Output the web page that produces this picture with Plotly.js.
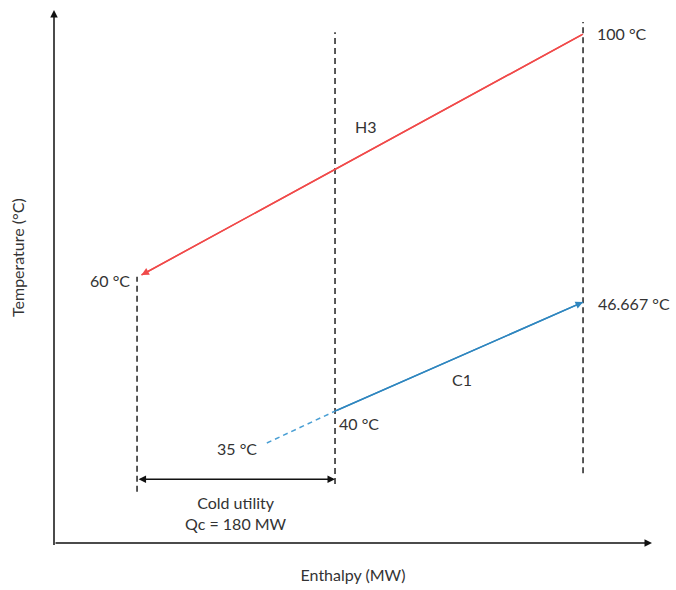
<!DOCTYPE html>
<html><head><meta charset="utf-8">
<script src="https://cdn.plot.ly/plotly-3.0.1.min.js"></script>
<style>body{margin:0;background:#fff}#c{width:676px;height:590px}</style>
</head><body><div id="c"></div>
<script>
// Schematic data (enthalpy in MW, plotted temperature position on diagram)
const h3Enthalpy = [405.5, 4];
const h3PlotT = [100, 60];
const h3Labels = ['100 °C', '60 °C'];

const c1DashEnthalpy = [118, 180];
const c1DashPlotT = [32.1, 37.4];
const c1Enthalpy = [180, 405.5];
const c1PlotT = [37.4, 55.5];
const c1Labels = ['35 °C', '40 °C', '46.667 °C'];

const guideX = [0, 180, 405.5];
const guideBottom = [24.0, 25.3, 27.1];
const guideTop = [59.7, 100.3, 102.0];

const qcValue = 180;
const qcArrowT = 26.1;

const xRange = [-75.5, 468.2];
const yRange = [15.5, 104.0];

const RED = '#f04a4a', BLUE = '#2f86bf', INK = '#333333';
const FONT = 'Lato, Open Sans, sans-serif';
const FS = 16;

const traces = [];
guideX.forEach((gx, i) => {
  traces.push({x:[gx, gx], y:[guideBottom[i], guideTop[i]], mode:'lines',
    line:{color:'#222', width:1.5, dash:'6px,4px'}, hoverinfo:'skip', showlegend:false});
});
traces.push({x:h3Enthalpy, y:h3PlotT, mode:'lines', line:{color:RED, width:1.5}, showlegend:false});
traces.push({x:c1DashEnthalpy, y:c1DashPlotT, mode:'lines', line:{color:'#4a9fd4', width:1.5, dash:'5px,4px'}, showlegend:false});
traces.push({x:c1Enthalpy, y:c1PlotT, mode:'lines', line:{color:BLUE, width:1.5}, showlegend:false});

const ann = [];
const txt = (x, y, t, xanchor, xs, ys) => ann.push({x, y, xref:'x', yref:'y', text:t, showarrow:false,
  xanchor, yanchor:'middle', xshift:xs, yshift:ys, font:{family:FONT, size:FS, color:INK}});
const arrow = (x, y, ax, ay, color, w, side) => ann.push({x, y, ax, ay, xref:'x', yref:'y', axref:'x', ayref:'y',
  text:'', showarrow:true, arrowhead:2, arrowsize:1, arrowwidth:w, arrowcolor:color, standoff:0, startstandoff:0,
  arrowside:side || 'end', startarrowhead:2, startarrowsize:1});

// axes with arrows
arrow(xRange[0], yRange[1], xRange[0], yRange[0] - 0.6, '#111', 1.5);
arrow(xRange[1], yRange[0], xRange[0], yRange[0], '#111', 1.5);
// stream arrowheads
arrow(h3Enthalpy[1], h3PlotT[1], h3Enthalpy[0], h3PlotT[0], RED, 1.5);
arrow(c1Enthalpy[1], c1PlotT[1], c1Enthalpy[0], c1PlotT[0], BLUE, 1.5);
// cold utility double arrow
arrow(qcValue, qcArrowT, guideX[0], qcArrowT, '#111', 1.5, 'end+start');

// labels
txt(h3Enthalpy[0], h3PlotT[0], h3Labels[0], 'left', 12, 1);
txt(h3Enthalpy[1], h3PlotT[1], h3Labels[1], 'right', -9, -6);
txt(c1DashEnthalpy[0], c1DashPlotT[0], c1Labels[0], 'right', -8, -5);
txt(c1Enthalpy[0], c1PlotT[0], c1Labels[1], 'left', 2, -12);
txt(c1Enthalpy[1], c1PlotT[1], c1Labels[2], 'left', 13, -1);
txt(180, 100.3, 'H3', 'center', 31, -94);
txt(295.5, 42.7, 'C1', 'center', 0, 0);
ann.push({x:qcValue/2, y:qcArrowT, xref:'x', yref:'y', text:'Cold utility<br>Qc = ' + qcValue + ' MW', showarrow:false,
  xanchor:'center', yanchor:'top', yshift:-12, font:{family:FONT, size:FS, color:INK}, align:'center'});
// y-axis title
ann.push({x:-0.06, y:0.535, xref:'paper', yref:'paper', text:'Temperature (°C)', textangle:-90, showarrow:false,
  xanchor:'center', yanchor:'middle', font:{family:FONT, size:FS, color:INK}});

const layout = {
  width:676, height:590, margin:{l:54, r:24, t:10, b:47},
  paper_bgcolor:'#fff', plot_bgcolor:'#fff', showlegend:false,
  xaxis:{range:xRange, showgrid:false, zeroline:false, showline:false, showticklabels:false, ticks:'',
    title:{text:'Enthalpy (MW)', font:{family:FONT, size:FS, color:INK}, standoff:26}},
  yaxis:{range:yRange, showgrid:false, zeroline:false, showline:false, showticklabels:false, ticks:''},
  annotations:ann
};
Plotly.newPlot('c', traces, layout, {staticPlot:true});
</script></body></html>
